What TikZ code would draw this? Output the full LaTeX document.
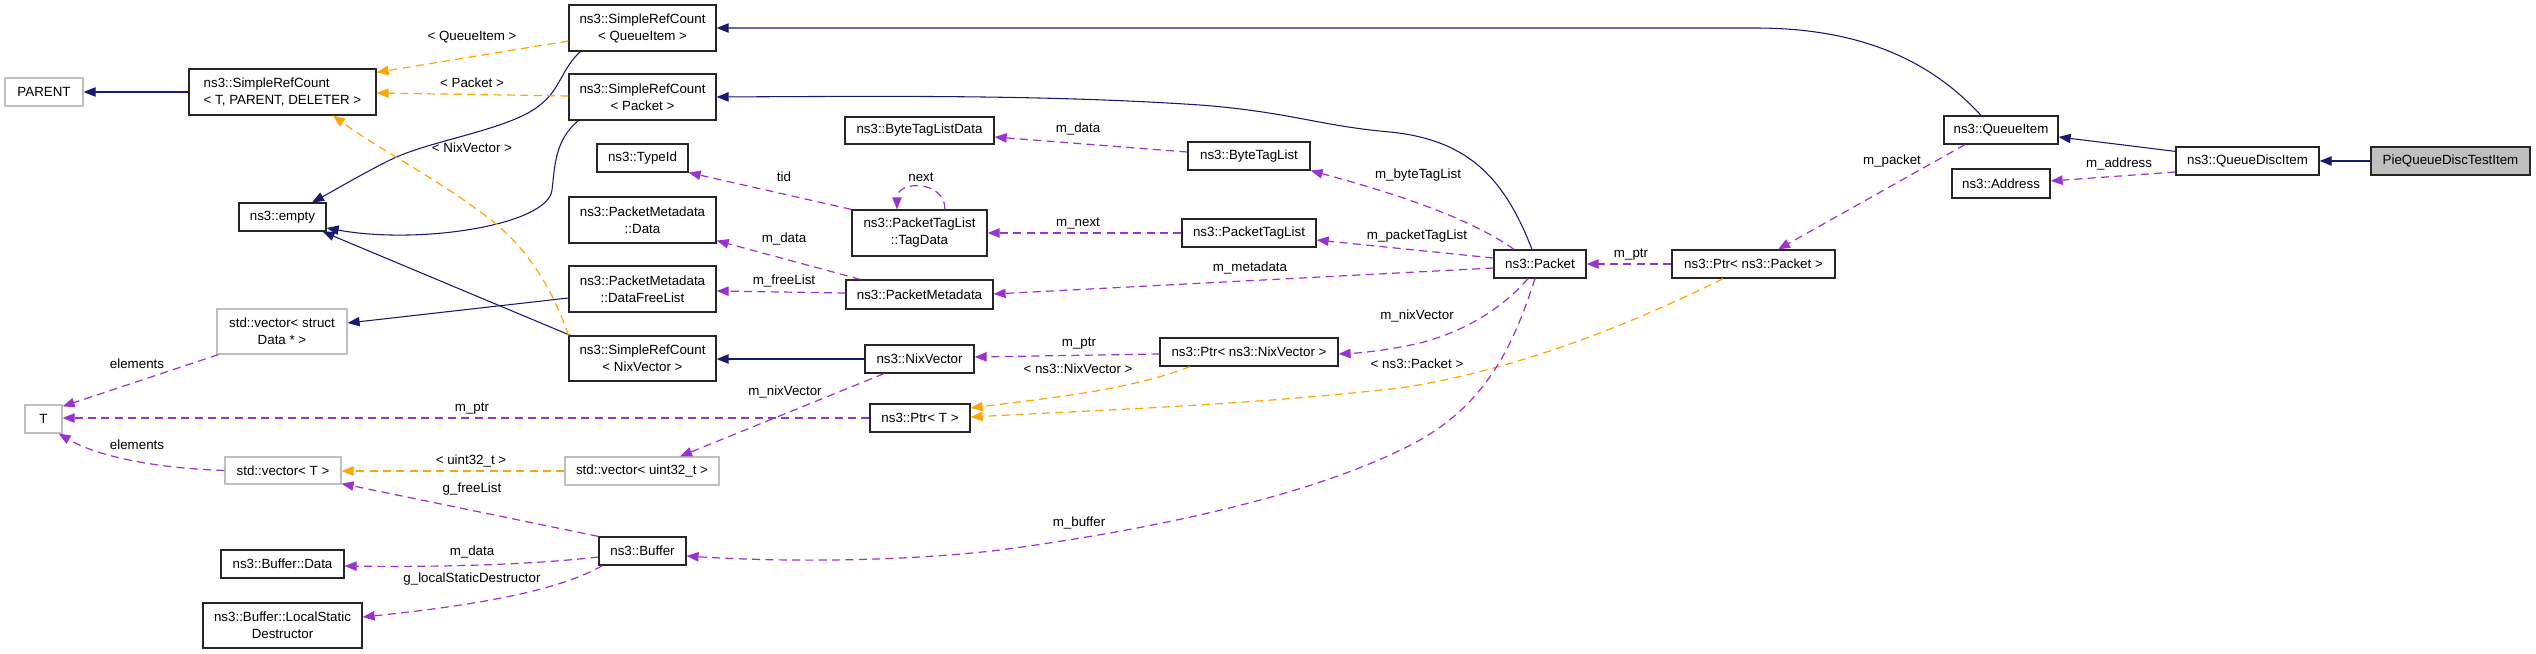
\documentclass[tikz,border=0pt]{standalone}
\usepackage{fontspec}
\setmainfont{Liberation Sans}
\usetikzlibrary{arrows.meta,calc}
\definecolor{navy}{HTML}{191970}
\definecolor{orch}{HTML}{9A32CD}
\definecolor{orng}{HTML}{FFA500}
\definecolor{grayb}{HTML}{BFBFBF}
\newcommand\dxnode[7][]{\node[box,#1,minimum width={(#5-#3)*0.75pt},minimum height={(#6-#4)*0.75pt}] (#2) at ({(#3+#5)/2},{(#4+#6)/2}) {#7};}
\tikzset{
  box/.style={draw=black!85, line width=0.9pt, fill=white, inner sep=0pt, align=center, font=\fontsize{10}{12.75}\selectfont},
  gbox/.style={draw=grayb},
  inh/.style={draw=navy, line width=0.8pt, -{Triangle[length=9pt,width=7pt]}},
  tmpl/.style={draw=orng, line width=0.9pt, dash pattern=on 6pt off 4pt, -{Triangle[length=9pt,width=7pt]}},
  use/.style={draw=orch, line width=0.9pt, dash pattern=on 6pt off 4pt, -{Triangle[length=9pt,width=7pt]}},
  lbl/.style={inner sep=0pt, font=\fontsize{10}{12}\selectfont}
}
\begin{document}
\begin{tikzpicture}[x=0.75pt, y=-0.75pt]
\fill[white] (0,0) rectangle (2536,653);
\useasboundingbox (0,0) rectangle (2536,653);
% nodes
\dxnode[gbox]{PARENT}{5}{78}{83}{106}{PARENT}
\dxnode[align=left]{SRCTPD}{189}{69}{376}{115}{ns3::SimpleRefCount\\< T, PARENT, DELETER >}
\dxnode{SRCQ}{569}{5}{716}{51}{ns3::SimpleRefCount\\< QueueItem >}
\dxnode{SRCP}{569}{74}{716}{120}{ns3::SimpleRefCount\\< Packet >}
\dxnode{TypeId}{597}{144}{688}{172}{ns3::TypeId}
\dxnode{PMData}{569}{197}{716}{243}{ns3::PacketMetadata\\::Data}
\dxnode{empty}{239}{203}{326}{231}{ns3::empty}
\dxnode{DFL}{569}{266}{716}{312}{ns3::PacketMetadata\\::DataFreeList}
\dxnode[gbox]{VecStruct}{217}{309}{347}{354}{std::vector< struct\\Data * >}
\dxnode{SRCNix}{569}{336}{716}{381}{ns3::SimpleRefCount\\< NixVector >}
\dxnode[gbox]{T}{25}{405}{62}{433}{T}
\dxnode[gbox]{VecT}{225}{457}{341}{484}{std::vector< T >}
\dxnode[gbox]{VecU}{565}{457}{719}{485}{std::vector< uint32\_t >}
\dxnode{Buffer}{599}{537}{686}{565}{ns3::Buffer}
\dxnode{BufData}{221}{550}{344}{578}{ns3::Buffer::Data}
\dxnode{LSD}{203}{603}{362}{648}{ns3::Buffer::LocalStatic\\Destructor}
\dxnode{BTLD}{845}{117}{994}{144}{ns3::ByteTagListData}
\dxnode{BTL}{1188}{142}{1310}{170}{ns3::ByteTagList}
\dxnode{TagData}{852}{210}{987}{256}{ns3::PacketTagList\\::TagData}
\dxnode{PTL}{1182}{219}{1316}{247}{ns3::PacketTagList}
\dxnode{PM}{846}{280}{993}{309}{ns3::PacketMetadata}
\dxnode{NixVector}{865}{345}{974}{373}{ns3::NixVector}
\dxnode{PtrNix}{1160}{338}{1338}{366}{ns3::Ptr< ns3::NixVector >}
\dxnode{PtrT}{870}{404}{970}{432}{ns3::Ptr< T >}
\dxnode{Packet}{1494}{250}{1586}{278}{ns3::Packet}
\dxnode{PtrPacket}{1672}{250}{1835}{278}{ns3::Ptr< ns3::Packet >}
\dxnode{QueueItem}{1944}{116}{2058}{144}{ns3::QueueItem}
\dxnode{Address}{1952}{169}{2050}{198}{ns3::Address}
\dxnode{QDI}{2176}{147}{2319}{175}{ns3::QueueDiscItem}
\dxnode[fill=grayb]{Pie}{2371}{147}{2530}{175}{PieQueueDiscTestItem}
% inheritance edges
\draw[inh] (SRCTPD.west) -- (PARENT.east);
\draw[inh] ($(SRCQ.south west)+(12,0)$) .. controls (562,68) and (560,90) .. (540,105) .. controls (510,130) and (430,140) .. (390,160) .. controls (360,175) and (335,190) .. ($(empty.north)+(29.5,0)$);
\draw[inh] ($(SRCP.south west)+(10,0)$) .. controls (555,140) and (555,165) .. (552,190) .. controls (548,225) and (420,245) .. ($(empty.east)+(0,11)$);
\draw[inh] ($(SRCNix.north west)+(2,0)$) -- ($(empty.south east)+(-4,0)$);
\draw[inh] ($(DFL.west)+(0,9)$) -- ($(VecStruct.east)+(0,-8.5)$);
\draw[inh] (NixVector.west) -- (NixVector.west -| SRCNix.east);
\draw[inh] ($(QueueItem.north)+(-20,0)$) .. controls (1930,60) and (1860,28) .. (1755,28) -- (SRCQ.east);
\draw[inh] ($(Packet.north)+(-8,0)$) .. controls (1505,180) and (1470,140) .. (1390,132) .. controls (1320,126) and (1290,112) .. (1200,105) .. controls (1050,95) and (900,96) .. (SRCP.east);
\draw[inh] ($(QDI.north west)+(0,5)$) -- ($(QueueItem.east)+(0,7)$);
\draw[inh] (Pie.west) -- (QDI.east);
% template edges
\draw[tmpl] ($(SRCQ.west)+(0,13)$) -- ($(SRCTPD.north east)+(0,4)$);
\draw[tmpl] ($(SRCP.west)+(0,-1)$) -- ($(SRCTPD.east)+(0,1)$);
\draw[tmpl] (SRCNix.north west) .. controls (555,295) and (530,250) .. (491,220) .. controls (440,180) and (380,150) .. ($(SRCTPD.south)+(50.5,0)$);
\draw[tmpl] (VecU.west) -- (VecU.west -| VecT.east);
\draw[tmpl] ($(PtrNix.south)+(-59,0)$) .. controls (1130,390) and (1050,398) .. ($(PtrT.east)+(0,-10)$);
\draw[tmpl] ($(PtrPacket.south)+(-30.5,0)$) .. controls (1640,320) and (1520,370) .. (1400,388) .. controls (1250,405) and (1100,410) .. ($(PtrT.east)+(0,-1)$);
\node[lbl] (lq) at (472,37) {< QueueItem >};
\node[lbl] (lp) at (472,83) {< Packet >};
\node[lbl] (ln) at (472,148) {< NixVector >};
\node[lbl] (lu) at (471,461) {< uint32\_t >};
\node[lbl] (lnv) at (1078,369) {< ns3::NixVector >};
\node[lbl] (lpk) at (1417,364) {< ns3::Packet >};
% usage edges
\draw[use] ($(VecStruct.south west)+(2,0)$) -- ($(T.north east)+(0,2)$);
\node[lbl] (l1) at (137,364) {elements};
\draw[use] (PtrT.west) -- (PtrT.west -| T.east);
\node[lbl] (l2) at (472,409) {m\_ptr};
\draw[use] (VecT.west) .. controls (150,468) and (95,455) .. ($(T.south east)+(-4,0)$);
\node[lbl] (l3) at (137,445) {elements};
\draw[use] (Buffer.north west) -- ($(VecT.south east)+(0,-1)$);
\node[lbl] (l4) at (472,489) {g\_freeList};
\draw[use] ($(Buffer.west)+(0,6)$) .. controls (520,566) and (420,567) .. ($(BufData.east)+(0,2)$);
\node[lbl] (l5) at (472,552) {m\_data};
\draw[use] ($(Buffer.south west)+(4,0)$) .. controls (560,590) and (480,605) .. ($(LSD.east)+(0,-8.5)$);
\node[lbl] (l6) at (472,579) {g\_localStaticDestructor};
\draw[use] ($(NixVector.south)+(-35.5,0)$) -- ($(VecU.north)+(38,0)$);
\node[lbl] (l7) at (785,392) {m\_nixVector};
\draw[use] ($(BTL.west)+(0,-4)$) -- ($(BTLD.east)+(0,6.5)$);
\node[lbl] (l8) at (1078,129) {m\_data};
\draw[use] (TagData.north west) -- (TypeId.south east);
\node[lbl] (l9) at (784,177) {tid};
\draw[use] ($(TagData.north)+(25.5,0)$) .. controls (945,180) and (897,180) .. ($(TagData.north)+(-22.5,0)$);
\node[lbl] (l10) at (921,177) {next};
\draw[use] (PTL.west) -- (PTL.west -| TagData.east);
\node[lbl] (l11) at (1078,224) {m\_next};
\draw[use] ($(PM.north west)+(15,0)$) -- ($(PMData.south east)+(0,-3)$);
\node[lbl] (l12) at (784,239) {m\_data};
\draw[use] ($(PM.west)+(0,-1.5)$) -- ($(DFL.east)+(0,2)$);
\node[lbl] (l13) at (784,281) {m\_freeList};
\draw[use] ($(PtrNix.west)+(0,2)$) -- ($(NixVector.east)+(0,-2)$);
\node[lbl] (l14) at (1079,344) {m\_ptr};
\draw[use] ($(Packet.north)+(-26,0)$) .. controls (1480,225) and (1420,200) .. (BTL.south east);
\node[lbl] (l15) at (1418,175) {m\_byteTagList};
\draw[use] ($(Packet.west)+(0,-6)$) -- ($(PTL.east)+(0,7)$);
\node[lbl] (l16) at (1417,236) {m\_packetTagList};
\draw[use] ($(Packet.west)+(0,4)$) -- ($(PM.east)+(0,-0.5)$);
\node[lbl] (l17) at (1250,268) {m\_metadata};
\draw[use] ($(Packet.south)+(-12,0)$) .. controls (1505,305) and (1470,330) .. (1420,343) .. controls (1390,350) and (1360,353) .. ($(PtrNix.east)+(0,2)$);
\node[lbl] (l18) at (1417,316) {m\_nixVector};
\draw[use] ($(Packet.south)+(-5,0)$) .. controls (1515,340) and (1490,400) .. (1420,440) .. controls (1320,495) and (1150,530) .. (1000,550) .. controls (900,562) and (780,562) .. ($(Buffer.east)+(0,5)$);
\node[lbl] (l19) at (1079,523) {m\_buffer};
\draw[use] (PtrPacket.west) -- (Packet.east);
\node[lbl] (l20) at (1631,255) {m\_ptr};
\draw[use] ($(QueueItem.south)+(-36,0)$) -- ($(PtrPacket.north)+(24.5,0)$);
\node[lbl] (l21) at (1892,161) {m\_packet};
\draw[use] ($(QDI.west)+(0,11)$) -- ($(Address.east)+(0,-2.5)$);
\node[lbl] (l22) at (2119,164) {m\_address};
\end{tikzpicture}
\end{document}
